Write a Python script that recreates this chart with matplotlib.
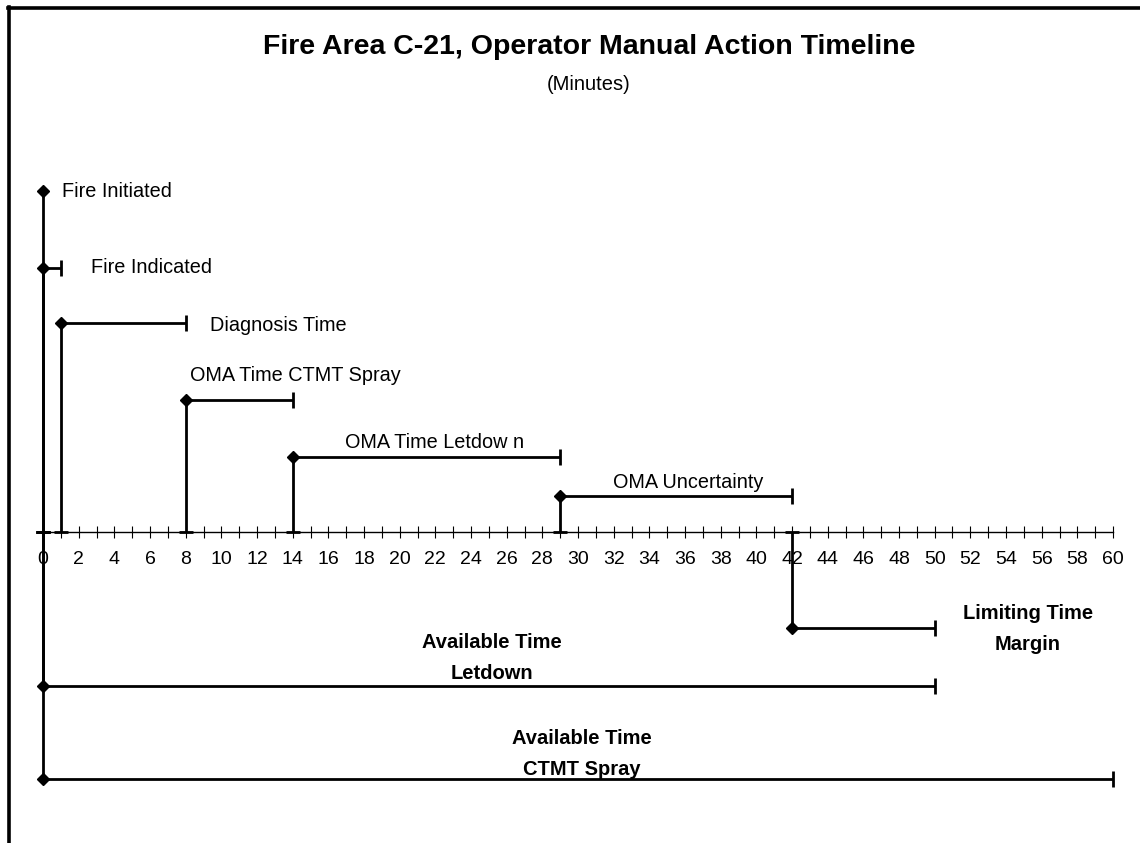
import matplotlib
matplotlib.use("Agg")
import matplotlib.pyplot as plt
from matplotlib.lines import Line2D
import numpy as np

plt.rcParams['font.family'] = ['Liberation Sans', 'DejaVu Sans']

# ---- data ----
events = ["Fire Initiated", "Fire Indicated", "Diagnosis Time",
          "OMA Time CTMT Spray", "OMA Time Letdow n", "OMA Uncertainty",
          "Limiting Time\nMargin", "Available Time\nLetdown",
          "Available Time\nCTMT Spray"]
start_min = [0, 0, 1, 8, 14, 29, 42, 0, 0]
duration_min = [0, 1, 7, 6, 15, 13, 8, 50, 60]
level = [341, 264, 209, 132, 75, 36, -96, -154, -247]
major_ticks = list(range(0, 61, 2))
minor_ticks = list(range(0, 61, 1))

# ---- layout (label anchors) ----
label_x = [1.07, 2.69, 9.36, 8.24, 16.93, 31.96, 55.23, 25.18, 30.2]
label_y = [341, 265, 207, 157, 90, 50, -97, -126, -222]
label_ha = ["left", "left", "left", "left", "left", "left", "center", "center", "center"]
label_bold = [False] * 6 + [True] * 3

W, H = 1140, 843
fig = plt.figure(figsize=(W / 100, H / 100), dpi=100)
ax = fig.add_axes([43 / W, (H - 800) / H, 1070 / W, 650 / H])
ax.set_xlim(0, 60)
ax.set_ylim(-268, 382)

s = np.array(start_min, float)
d = np.array(duration_min, float)
lv = np.array(level, float)
e = s + d
has_dur = d > 0

lw = 2.0
# vertical drop lines to the axis
ax.vlines(s, np.minimum(lv, 0), np.maximum(lv, 0), color='black', lw=lw, clip_on=False, zorder=3)
# horizontal duration lines
ax.hlines(lv[has_dur], s[has_dur], e[has_dur], color='black', lw=lw, clip_on=False, zorder=3)
# end caps
ax.plot(e[has_dur], lv[has_dur], linestyle='none', marker='|', markersize=11,
        markeredgewidth=lw, color='black', clip_on=False, zorder=3)
# caps at the axis
ax.plot(s, np.zeros_like(s), linestyle='none', marker='_', markersize=10, markeredgewidth=lw,
        color='black', clip_on=False, zorder=3)
# diamonds
ax.plot(s, lv, linestyle='none', marker='D', markersize=6.3, color='black',
        markeredgewidth=1, clip_on=False, zorder=4)

for txt, x, y, ha, b in zip(events, label_x, label_y, label_ha, label_bold):
    ax.text(x, y, txt, ha=ha, va='center', multialignment='center',
            fontsize=14.5 if b else 14.3, fontweight='bold' if b else 'normal',
            linespacing=1.75, clip_on=False)

# axis styling
for sp in ['left', 'right', 'top']:
    ax.spines[sp].set_visible(False)
ax.spines['bottom'].set_position(('data', 0))
ax.spines['bottom'].set_linewidth(1.0)
ax.set_yticks([])
ax.set_xticks(major_ticks)
ax.set_xticks(minor_ticks, minor=True)
ax.set_xticklabels([str(t) for t in major_ticks])
ax.tick_params(axis='x', which='both', direction='inout', length=8, width=0.8,
               color='black', labelsize=14, pad=10)
ax.patch.set_visible(False)

# titles
fig.text(589 / W, 1 - 47 / H, "Fire Area C-21, Operator Manual Action Timeline",
         ha='center', va='center', fontsize=20.5, fontweight='bold')
fig.text(589 / W, 1 - 85 / H, "(Minutes)", ha='center', va='center', fontsize=14.5)

# frame (left and top only)
fig.add_artist(Line2D([9 / W, 9 / W], [0, 1 - 7 / H], transform=fig.transFigure,
                      color='black', lw=2.6))
fig.add_artist(Line2D([8 / W, 1], [1 - 8 / H, 1 - 8 / H], transform=fig.transFigure,
                      color='black', lw=2.6))

fig.savefig("out.png", dpi=100)
